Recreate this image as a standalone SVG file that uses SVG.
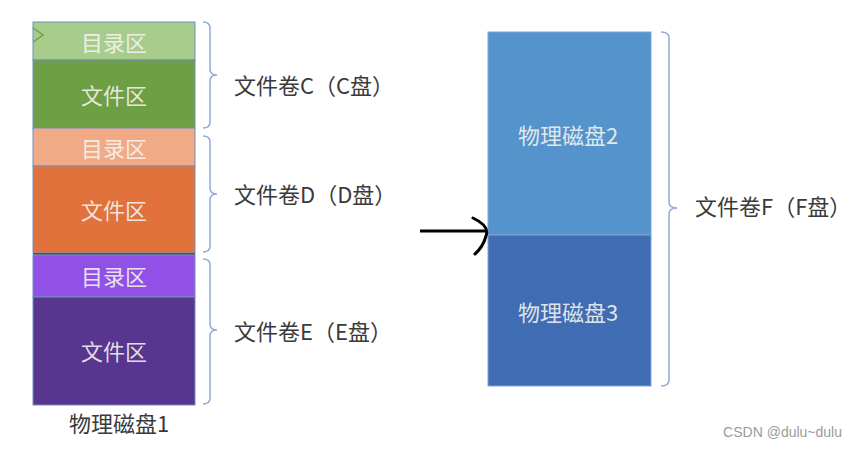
<svg xmlns="http://www.w3.org/2000/svg" width="857" height="449" viewBox="0 0 857 449">
<style>
.in{font-family:"Noto Sans CJK SC","Liberation Sans",sans-serif;font-size:22px;fill:#f4f4ee;fill-opacity:0.9;text-anchor:middle;dominant-baseline:central}
.lbl{font-family:"Noto Sans CJK SC","Liberation Sans",sans-serif;font-size:22px;fill:#3a3a3a;dominant-baseline:central}
.br{fill:none;stroke:#8eaad6;stroke-width:1.5}
.seg{stroke:#6f8fbf;stroke-width:1}
</style>
<rect width="857" height="449" fill="#fff"/>
<g id="disk1">
<rect class="seg" x="33" y="22" width="162" height="38" fill="#a8cc8c"/>
<rect class="seg" x="33" y="60" width="162" height="68" fill="#6e9f45"/>
<rect class="seg" x="33" y="128" width="162" height="38" fill="#f0aa86"/>
<rect class="seg" x="33" y="166" width="162" height="87" fill="#e1723b"/>
<rect x="33" y="253" width="162" height="2" fill="#44546a"/>
<rect class="seg" x="33" y="255" width="162" height="42" fill="#9150e6"/>
<rect class="seg" x="33" y="297" width="162" height="108" fill="#58358f"/>
<path d="M33 28 L43 35 L33 42" fill="none" stroke="#6e9f45" stroke-width="1.5"/>
<text class="in" x="114" y="41">目录区</text>
<text class="in" x="114" y="94">文件区</text>
<text class="in" x="114" y="147">目录区</text>
<text class="in" x="114" y="209">文件区</text>
<text class="in" x="114" y="275">目录区</text>
<text class="in" x="114" y="350">文件区</text>
<text class="lbl" x="119" y="422" text-anchor="middle" fill="#2a2a2a">物理磁盘1</text>
</g>
<g id="volC">
<path class="br" d="M203 22 Q210 22 210 28 L210 69 Q210 75 217 75 Q210 75 210 81 L210 122 Q210 128 203 128"/>
<text class="lbl" x="234" y="84">文件卷C（C盘）</text>
</g>
<g id="volD">
<path class="br" d="M203 136 Q210 136 210 142 L210 188 Q210 194 217 194 Q210 194 210 200 L210 246 Q210 252 203 252"/>
<text class="lbl" x="234" y="193">文件卷D（D盘）</text>
</g>
<g id="volE">
<path class="br" d="M203 259 Q210 259 210 265 L210 324 Q210 330 217 330 Q210 330 210 336 L210 398 Q210 404 203 404"/>
<text class="lbl" x="234" y="330">文件卷E（E盘）</text>
</g>
<g id="disks23">
<rect x="488" y="32" width="163" height="203" fill="#5593cc" stroke="#7ea6d6" stroke-width="1"/>
<rect x="488" y="235" width="163" height="151" fill="#3f6cb3" stroke="#7ea6d6" stroke-width="1"/>
<text class="in" x="568" y="134">物理磁盘2</text>
<text class="in" x="568" y="311">物理磁盘3</text>
</g>
<g id="volF">
<path class="br" d="M661 32 Q669 32 669 38 L669 202 Q669 208 677 208 Q669 208 669 214 L669 380 Q669 386 661 386"/>
<text class="lbl" x="695" y="205">文件卷F（F盘）</text>
</g>
<g id="connectors">
<path d="M420 231 L487 231" stroke="#000" stroke-width="3" fill="none"/>
<path d="M473 218 Q490 226 486 236 Q483 247 475 254" stroke="#000" stroke-width="3" fill="none" stroke-linecap="round"/>
</g>
<text x="842" y="437" text-anchor="end" font-family="Liberation Sans,Arial,sans-serif" font-size="14" fill="#9a9a9a">CSDN @dulu~dulu</text>
</svg>
